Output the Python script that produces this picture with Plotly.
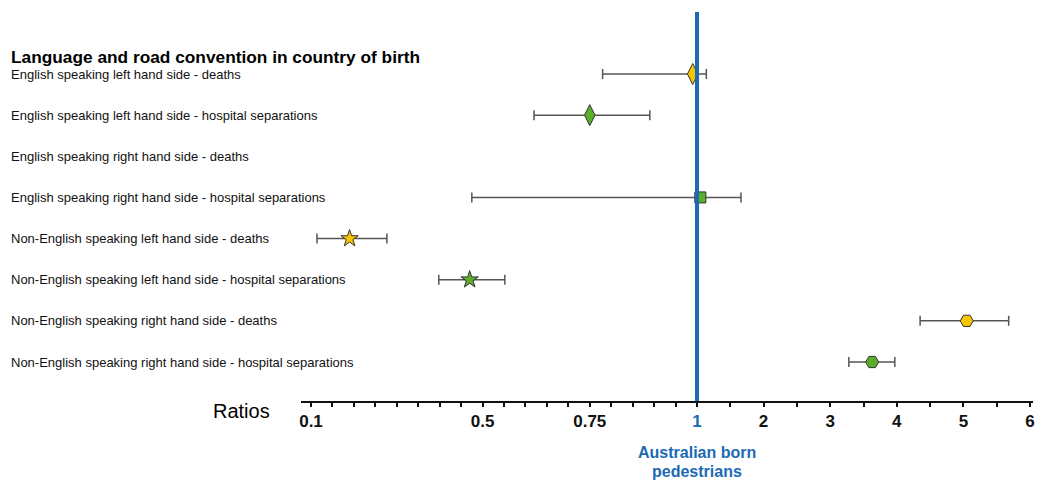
import plotly.graph_objects as go

# ---------------- data ----------------
categories = [
    "English speaking left hand side - deaths",
    "English speaking left hand side - hospital separations",
    "English speaking right hand side - deaths",
    "English speaking right hand side - hospital separations",
    "Non-English speaking left hand side - deaths",
    "Non-English speaking left hand side - hospital separations",
    "Non-English speaking right hand side - deaths",
    "Non-English speaking right hand side - hospital separations",
]
ratios = [0.99, 0.75, None, 1.05, 0.19, 0.47, 5.05, 3.63]
ci_low = [0.78, 0.62, None, 0.475, 0.114, 0.398, 4.35, 3.28]
ci_high = [1.14, 0.89, None, 1.66, 0.277, 0.552, 5.68, 3.97]
symbols = ["diamond-tall", "diamond-tall", None, "square", "star", "star", "hexagon2", "hexagon2"]
sizes = [15, 15, None, 11, 13, 13, 13, 13]
colors = ["#F7C600", "#5AAE2B", None, "#5AAE2B", "#F7C600", "#5AAE2B", "#F7C600", "#5AAE2B"]

tick_values = [0.1, 0.5, 0.75, 1, 2, 3, 4, 5, 6]
tick_labels = ["0.1", "0.5", "0.75", "1", "2", "3", "4", "5", "6"]
minor_values = [round(0.1 + 0.05 * i, 2) for i in range(19)] + [1 + 0.5 * i for i in range(11)]

BLUE = "#1B6AB4"
SANS = "Liberation Sans, Arial, sans-serif"


# piecewise scale: below 1 stretched, above 1 linear
def scale(v):
    return (v - 1) * 6.44 if v < 1 else (v - 1)


fig = go.Figure()

for i, cat in enumerate(categories):
    if ratios[i] is None:
        continue
    xm = scale(ratios[i])
    fig.add_trace(go.Scatter(
        x=[xm], y=[i + 1], mode="markers",
        marker=dict(symbol=symbols[i], color=colors[i], size=sizes[i],
                    line=dict(color="#333333", width=1)),
        error_x=dict(type="data", symmetric=False,
                     array=[scale(ci_high[i]) - xm],
                     arrayminus=[xm - scale(ci_low[i])],
                     color="#555555", thickness=1.5, width=5),
        showlegend=False, hoverinfo="skip",
    ))

# tick positions/labels
all_ticks = sorted(set(minor_values) | set(tick_values))
tv, tt = [], []
for v in all_ticks:
    tv.append(scale(v))
    if v in tick_values:
        lab = tick_labels[tick_values.index(v)]
        if v == 1:
            lab = f'<span style="color:{BLUE}">{lab}</span>'
        tt.append(lab)
    else:
        tt.append("")

# reference line at ratio 1
fig.add_shape(type="line", xref="x", yref="paper", x0=scale(1), x1=scale(1), y0=0, y1=1,
              line=dict(color=BLUE, width=4), layer="above")

# page body has 8px margin -> figure coords = reference coords - 8
L, PW, PH = 293, 732, 389
label_x = (1 - L) / PW
for i, cat in enumerate(categories):
    fig.add_annotation(text=cat, xref="paper", yref="y", x=label_x, y=i + 1,
                       xanchor="left", yanchor="middle", showarrow=False,
                       font=dict(family=SANS, size=13, color="#111111"))

fig.add_annotation(text="<b>Language and road convention in country of birth</b>", xref="paper", yref="y",
                   x=label_x, y=0.59, xanchor="left", yanchor="middle", showarrow=False,
                   font=dict(family=SANS, size=17.3, color="#000000"))

fig.add_annotation(text="Ratios", xref="paper", yref="paper", x=(264 - L) / PW, y=(393 - 403) / PH,
                   xanchor="right", yanchor="middle", showarrow=False,
                   font=dict(family=SANS, size=20, color="#000000"))

fig.add_annotation(text="<b>Australian born</b>", xref="x", yref="paper", x=scale(1),
                   y=(393 - 444) / PH, xanchor="center", yanchor="middle", showarrow=False,
                   font=dict(family=SANS, size=16, color=BLUE))
fig.add_annotation(text="<b>pedestrians</b>", xref="x", yref="paper", x=scale(1),
                   y=(393 - 463) / PH, xanchor="center", yanchor="middle", showarrow=False,
                   font=dict(family=SANS, size=16, color=BLUE))

fig.update_layout(
    width=1037, height=476,
    margin=dict(l=L, r=12, t=4, b=83),
    plot_bgcolor="white", paper_bgcolor="white",
    xaxis=dict(range=[-5.946, 5.045], showgrid=False, zeroline=False,
               showline=True, linecolor="#111111", linewidth=2,
               tickmode="array", tickvals=tv, ticktext=tt,
               ticks="outside", ticklen=4, tickcolor="#111111", tickwidth=1.5,
               ticklabelstandoff=0,
               tickfont=dict(family=SANS, size=17, color="#111111", weight="bold")),
    yaxis=dict(range=[8.948, -0.507], visible=False, showgrid=False, zeroline=False),
)

fig.write_html("out.html")
